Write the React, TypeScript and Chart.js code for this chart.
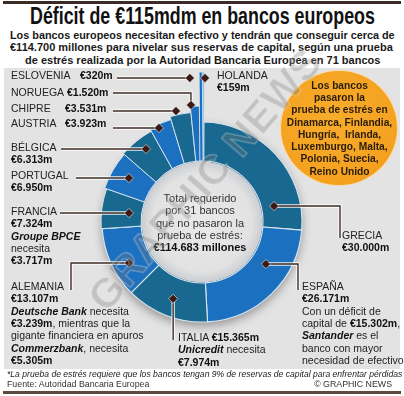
import React, { useEffect, useLayoutEffect, useRef, useState } from 'react';
import { Chart, registerables } from 'chart.js';

Chart.register(...registerables);

// ---------- DATA ----------
const countries = ['HOLANDA', 'GRECIA', 'ESPAÑA', 'ITALIA', 'ALEMANIA', 'FRANCIA', 'PORTUGAL', 'BÉLGICA', 'AUSTRIA', 'CHIPRE', 'NORUEGA', 'ESLOVENIA'];
const deficits = [159, 30000, 26171, 15365, 13107, 7324, 6950, 6313, 3923, 3531, 1520, 320];
const bankNames = ['Groupe BPCE', 'Deutsche Bank', 'Commerzbank', 'Unicredit', 'Santander'];
const bankNeeds = [3717, 3239, 5305, 7974, 15302];
const passedCountries = ['Dinamarca', 'Finlandia', 'Hungría', 'Irlanda', 'Luxemburgo', 'Malta', 'Polonia', 'Suecia', 'Reino Unido'];

// ---------- STYLE ----------
const DARK = '#18688f';
const BRIGHT = '#1c70c0';
const segmentColors = ['#6aaee2', DARK, BRIGHT, DARK, BRIGHT, DARK, BRIGHT, DARK, BRIGHT, DARK, BRIGHT, BRIGHT];
const stemExtension = [50, 0, 0, 0, 0, 1, 3, 4, 7, 10, 16, 50];
// dot placement: fraction along the segment's angle, radius as multiple of the outer radius
const dotFrac = [2.4, 0.818, 0.349, 0.493, 0.38, 0.47, 0.541, 0.58, 0.372, 0.331, 0.08, -3.8];
const dotRadius = [1.44, 0.738, 0.765, 0.82, 0.837, 0.736, 0.853, 0.92, 1.034, 1.14, 1.175, 1.445];
// leader routes (layout): move horizontally to x, or vertically to y
const leaderSteps: Array<Array<[string, number]>> = [
  [],
  [['x', 340], ['y', 238]],
  [['x', 298], ['y', 290]],
  [['y', 340]],
  [['x', 71], ['y', 290]],
  [['x', 60]],
  [['x', 76]],
  [['x', 61]],
  [['x', 113]],
  [['x', 113]],
  [['y', 93], ['x', 113]],
  [['x', 117]],
];

const fmt = (v: number) => v.toString().replace(/\B(?=(\d{3})+(?!\d))/g, '.');
const eur = (v: number) => `€${fmt(v)}m`;
const total = deficits.reduce((a, b) => a + b, 0);

const FONT = '"Liberation Sans", Arial, Helvetica, sans-serif';
const LH = 12.4;

const ringPlugin = {
  id: 'ringDecor',
  beforeDatasetsDraw(chart: any) {
    const ctx = chart.ctx;
    const el = chart.getDatasetMeta(0).data[1];
    if (!el) return;
    const { x, y, outerRadius } = el.getProps(['x', 'y', 'outerRadius'], true);
    ctx.save();
    ctx.shadowColor = 'rgba(0,0,0,0.35)';
    ctx.shadowBlur = 10;
    ctx.shadowOffsetY = 4;
    ctx.beginPath();
    ctx.arc(x, y, outerRadius, 0, Math.PI * 2);
    ctx.fillStyle = DARK;
    ctx.fill();
    ctx.restore();
  },
  afterDatasetsDraw(chart: any) {
    const ctx = chart.ctx;
    const arcs = chart.getDatasetMeta(0).data;
    arcs.forEach((el: any, i: number) => {
      const ext = stemExtension[i];
      if (!ext) return;
      const { x, y, startAngle, endAngle, innerRadius, outerRadius } = el.getProps(['x', 'y', 'startAngle', 'endAngle', 'innerRadius', 'outerRadius'], true);
      const R2 = outerRadius + ext;
      const span = endAngle - startAngle;
      ctx.save();
      ctx.fillStyle = segmentColors[i];
      ctx.strokeStyle = '#dbe6f0';
      ctx.lineWidth = 0.9;
      if (span * R2 < 5) {
        const mid = (startAngle + endAngle) / 2;
        ctx.translate(x, y);
        ctx.rotate(mid);
        ctx.beginPath();
        ctx.rect(innerRadius, -1.6, R2 - innerRadius, 3.2);
        ctx.fill();
        ctx.stroke();
      } else {
        ctx.beginPath();
        ctx.arc(x, y, R2, startAngle, endAngle);
        ctx.arc(x, y, innerRadius, endAngle, startAngle, true);
        ctx.closePath();
        ctx.fill();
        ctx.stroke();
      }
      ctx.restore();
    });
    // inner disk
    const a0 = arcs[1].getProps(['x', 'y', 'innerRadius', 'outerRadius'], true);
    ctx.save();
    const g = ctx.createRadialGradient(a0.x, a0.y, 0, a0.x, a0.y, a0.innerRadius);
    g.addColorStop(0, '#e9e9e9');
    g.addColorStop(0.8, '#e2e2e2');
    g.addColorStop(1, '#c9cdd2');
    ctx.beginPath();
    ctx.arc(a0.x, a0.y, a0.innerRadius - 0.6, 0, Math.PI * 2);
    ctx.fillStyle = g;
    ctx.fill();
    ctx.restore();
    // leaders & dots
    arcs.forEach((el: any, i: number) => {
      const { x, y, startAngle, endAngle, outerRadius } = el.getProps(['x', 'y', 'startAngle', 'endAngle', 'outerRadius'], true);
      const th = startAngle + dotFrac[i] * (endAngle - startAngle);
      const r = dotRadius[i] * outerRadius;
      const dx = x + r * Math.cos(th);
      const dy = y + r * Math.sin(th);
      const pts: Array<[number, number]> = [[dx, dy]];
      let cx = dx, cy = dy;
      leaderSteps[i].forEach(([axis, v]) => {
        if (axis === 'x') cx = v; else cy = v;
        pts.push([cx, cy]);
      });
      if (pts.length > 1) {
        ctx.save();
        ctx.lineJoin = 'miter';
        ctx.beginPath();
        pts.forEach(([px, py], k) => (k ? ctx.lineTo(px, py) : ctx.moveTo(px, py)));
        ctx.strokeStyle = 'rgba(255,255,255,0.9)';
        ctx.lineWidth = 3.4;
        ctx.stroke();
        ctx.strokeStyle = '#3d2b24';
        ctx.lineWidth = 1.4;
        ctx.stroke();
        ctx.restore();
      }
      ctx.save();
      ctx.beginPath();
      const s = 4.6;
      ctx.moveTo(dx, dy - s);
      ctx.lineTo(dx + s, dy);
      ctx.lineTo(dx, dy + s);
      ctx.lineTo(dx - s, dy);
      ctx.closePath();
      ctx.fillStyle = '#3a1a12';
      ctx.strokeStyle = 'rgba(255,255,255,0.7)';
      ctx.lineWidth = 0.8;
      ctx.fill();
      ctx.stroke();
      ctx.restore();
    });
  },
};

function Fit({ left, top, width, style, children }: any) {
  const ref = useRef<HTMLSpanElement>(null);
  const [s, setS] = useState(1);
  useLayoutEffect(() => {
    const el = ref.current;
    if (!el) return;
    const w = el.offsetWidth;
    if (w > 0) setS(width / w);
  }, [width]);
  return (
    <span
      ref={ref}
      style={{ position: 'absolute', left, top, whiteSpace: 'nowrap', display: 'inline-block', transform: `scaleX(${s})`, transformOrigin: '0 0', ...style }}
    >
      {children}
    </span>
  );
}

function Lines({ x, y, lines, style }: any) {
  return (
    <div style={{ position: 'absolute', left: x, top: y - LH / 2, lineHeight: `${LH}px`, fontSize: 10.5, color: '#222', whiteSpace: 'nowrap', ...style }}>
      {lines.map((l: any, k: number) => (
        <div key={k}>{l}</div>
      ))}
    </div>
  );
}

const B = ({ children }: any) => <b style={{ color: '#111' }}>{children}</b>;
const BI = ({ children }: any) => <b style={{ color: '#111', fontStyle: 'italic' }}>{children}</b>;

export default function App() {
  const canvasRef = useRef<HTMLCanvasElement>(null);
  useEffect(() => {
    const canvas = canvasRef.current;
    if (!canvas) return;
    const chart = new Chart(canvas, {
      type: 'doughnut',
      data: {
        labels: countries,
        datasets: [
          {
            data: deficits,
            backgroundColor: segmentColors,
            borderColor: '#dbe6f0',
            borderWidth: 1.1,
          },
        ],
      },
      options: {
        responsive: false,
        animation: false,
        events: [],
        radius: 100,
        cutout: '61%',
        layout: { padding: { top: 48 } },
        plugins: { legend: { display: false }, tooltip: { enabled: false } },
      } as any,
      plugins: [ringPlugin as any],
    });
    return () => chart.destroy();
  }, []);

  const left = (i: number) => countries[i];
  const pct = passedCountries;

  return (
    <div style={{ position: 'fixed', left: 0, top: 0, width: 404, height: 396, background: '#fff', overflow: 'hidden', fontFamily: FONT }}>
      <div style={{ position: 'absolute', left: 3, top: 1, width: 398, height: 3, background: '#3a2c24' }} />
      <div style={{ position: 'absolute', left: 4, top: 68, width: 396, height: 301, background: '#e3e3e3' }} />
      <div style={{ position: 'absolute', left: 3, top: 391, width: 398, height: 3, background: '#5a4a40' }} />

      <Fit left={30} top={5} width={345} style={{ fontSize: 23, lineHeight: '23px', fontWeight: 'bold', color: '#111' }}>
        Déficit de €115mdm en bancos europeos
      </Fit>
      <Fit left={10} top={34.5 - 6} width={385} style={{ fontSize: 11, lineHeight: '12px', fontWeight: 'bold', color: '#1a1a1a' }}>
        Los bancos europeos necesitan efectivo y tendrán que conseguir cerca de
      </Fit>
      <Fit left={10} top={47 - 6} width={383} style={{ fontSize: 11, lineHeight: '12px', fontWeight: 'bold', color: '#1a1a1a' }}>
        €114.700 millones para nivelar sus reservas de capital, según una prueba
      </Fit>
      <Fit left={25} top={59.5 - 6} width={355} style={{ fontSize: 11, lineHeight: '12px', fontWeight: 'bold', color: '#1a1a1a' }}>
        de estrés realizada por la Autoridad Bancaria Europea en 71 bancos
      </Fit>

      <canvas ref={canvasRef} width={404} height={396} style={{ position: 'absolute', left: 0, top: 0, width: 404, height: 396 }} />

      {/* orange box */}
      <div style={{ position: 'absolute', left: 338 - 58, top: 127 - 57, width: 116, height: 114, borderRadius: '50%', background: 'radial-gradient(circle at 45% 40%, #f8ac2c 0%, #f4a11f 70%, #e8911a 100%)', border: '1px solid rgba(255,255,255,0.6)' }} />
      <div style={{ position: 'absolute', left: 339.5 - 60, top: 86 - 6.12, width: 120, textAlign: 'center', fontSize: 10.2, lineHeight: '12.24px', fontWeight: 'bold', color: '#2a1c0c', whiteSpace: 'nowrap' }}>
        <div>Los bancos</div>
        <div>pasaron la</div>
        <div>prueba de estrés en</div>
        <div>{pct[0]}, {pct[1]},</div>
        <div>{pct[2]},&nbsp; {pct[3]},</div>
        <div>{pct[4]}, {pct[5]},</div>
        <div>{pct[6]}, {pct[7]},</div>
        <div>{pct[8]}</div>
      </div>

      {/* centre text */}
      <div style={{ position: 'absolute', left: 200 - 60, top: 198 - 6.2, width: 120, textAlign: 'center', fontSize: 11, lineHeight: '12.4px', color: '#333', whiteSpace: 'nowrap' }}>
        <div>Total requerido</div>
        <div>por 31 bancos</div>
        <div>que no pasaron la</div>
        <div>prueba de estrés:</div>
        <div style={{ fontWeight: 'bold', color: '#111' }}>€{fmt(total)} millones</div>
      </div>

      {/* left labels */}
      <Lines x={11} y={75} lines={[left(11)]} />
      <Lines x={80} y={75} lines={[<B>{eur(deficits[11])}</B>]} />
      <Lines x={11} y={92} lines={[left(10)]} />
      <Lines x={67} y={92} lines={[<B>{eur(deficits[10])}</B>]} />
      <Lines x={11} y={108} lines={[left(9)]} />
      <Lines x={65} y={108} lines={[<B>{eur(deficits[9])}</B>]} />
      <Lines x={11} y={123.5} lines={[left(8)]} />
      <Lines x={65} y={123.5} lines={[<B>{eur(deficits[8])}</B>]} />
      <Lines x={11} y={147} lines={[left(7), <B>{eur(deficits[7])}</B>]} />
      <Lines x={11} y={175} lines={[left(6), <B>{eur(deficits[6])}</B>]} />
      <Lines x={11} y={211} lines={[left(5), <B>{eur(deficits[5])}</B>, <BI>{bankNames[0]}</BI>, 'necesita', <B>{eur(bankNeeds[0])}</B>]} />
      <Lines
        x={11}
        y={286}
        lines={[
          left(4),
          <B>{eur(deficits[4])}</B>,
          <span><BI>{bankNames[1]}</BI> necesita</span>,
          <span><B>{eur(bankNeeds[1])}</B>, mientras que la</span>,
          'gigante financiera en apuros',
          <span><BI>{bankNames[2]}</BI>, necesita</span>,
          <B>{eur(bankNeeds[2])}</B>,
        ]}
      />

      {/* right labels */}
      <Lines x={217} y={75} lines={[countries[0], <B>{eur(deficits[0])}</B>]} />
      <Lines x={342} y={235} lines={[countries[1], <B>{eur(deficits[1])}</B>]} />
      <Lines
        x={302}
        y={286}
        lines={[
          countries[2],
          <B>{eur(deficits[2])}</B>,
          'Con un déficit de',
          <span>capital de <B>{eur(bankNeeds[4])}</B>,</span>,
          <span><BI>{bankNames[4]}</BI> es el</span>,
          'banco con mayor',
          'necesidad de efectivo',
        ]}
      />
      <Lines
        x={178}
        y={337}
        lines={[
          <span>{countries[3]} <B>{eur(deficits[3])}</B></span>,
          <span><BI>{bankNames[3]}</BI> necesita</span>,
          <B>{eur(bankNeeds[3])}</B>,
        ]}
      />

      {/* footer */}
      <Fit left={7} top={374 - 5} width={395} style={{ fontSize: 9, lineHeight: '10px', fontStyle: 'italic', color: '#222' }}>
        *La prueba de estrés requiere que los bancos tengan 9% de reservas de capital para enfrentar pérdidas
      </Fit>
      <div style={{ position: 'absolute', left: 7, top: 384 - 5, fontSize: 8.8, lineHeight: '10px', color: '#333', whiteSpace: 'nowrap' }}>Fuente: Autoridad Bancaria Europea</div>
      <div style={{ position: 'absolute', right: 12, top: 384 - 5, fontSize: 8.8, lineHeight: '10px', color: '#333', whiteSpace: 'nowrap' }}>© GRAPHIC NEWS</div>

      {/* watermark */}
      <div
        style={{
          position: 'absolute',
          left: 205,
          top: 180,
          transform: 'translate(-50%, -50%) rotate(-49deg)',
          fontSize: 42,
          fontWeight: 'bold',
          color: 'rgba(120,120,120,0.3)',
          WebkitTextStroke: '1px rgba(255,255,255,0.35)',
          whiteSpace: 'nowrap',
          pointerEvents: 'none',
        }}
      >
        GRAPHIC NEWS
      </div>
    </div>
  );
}
